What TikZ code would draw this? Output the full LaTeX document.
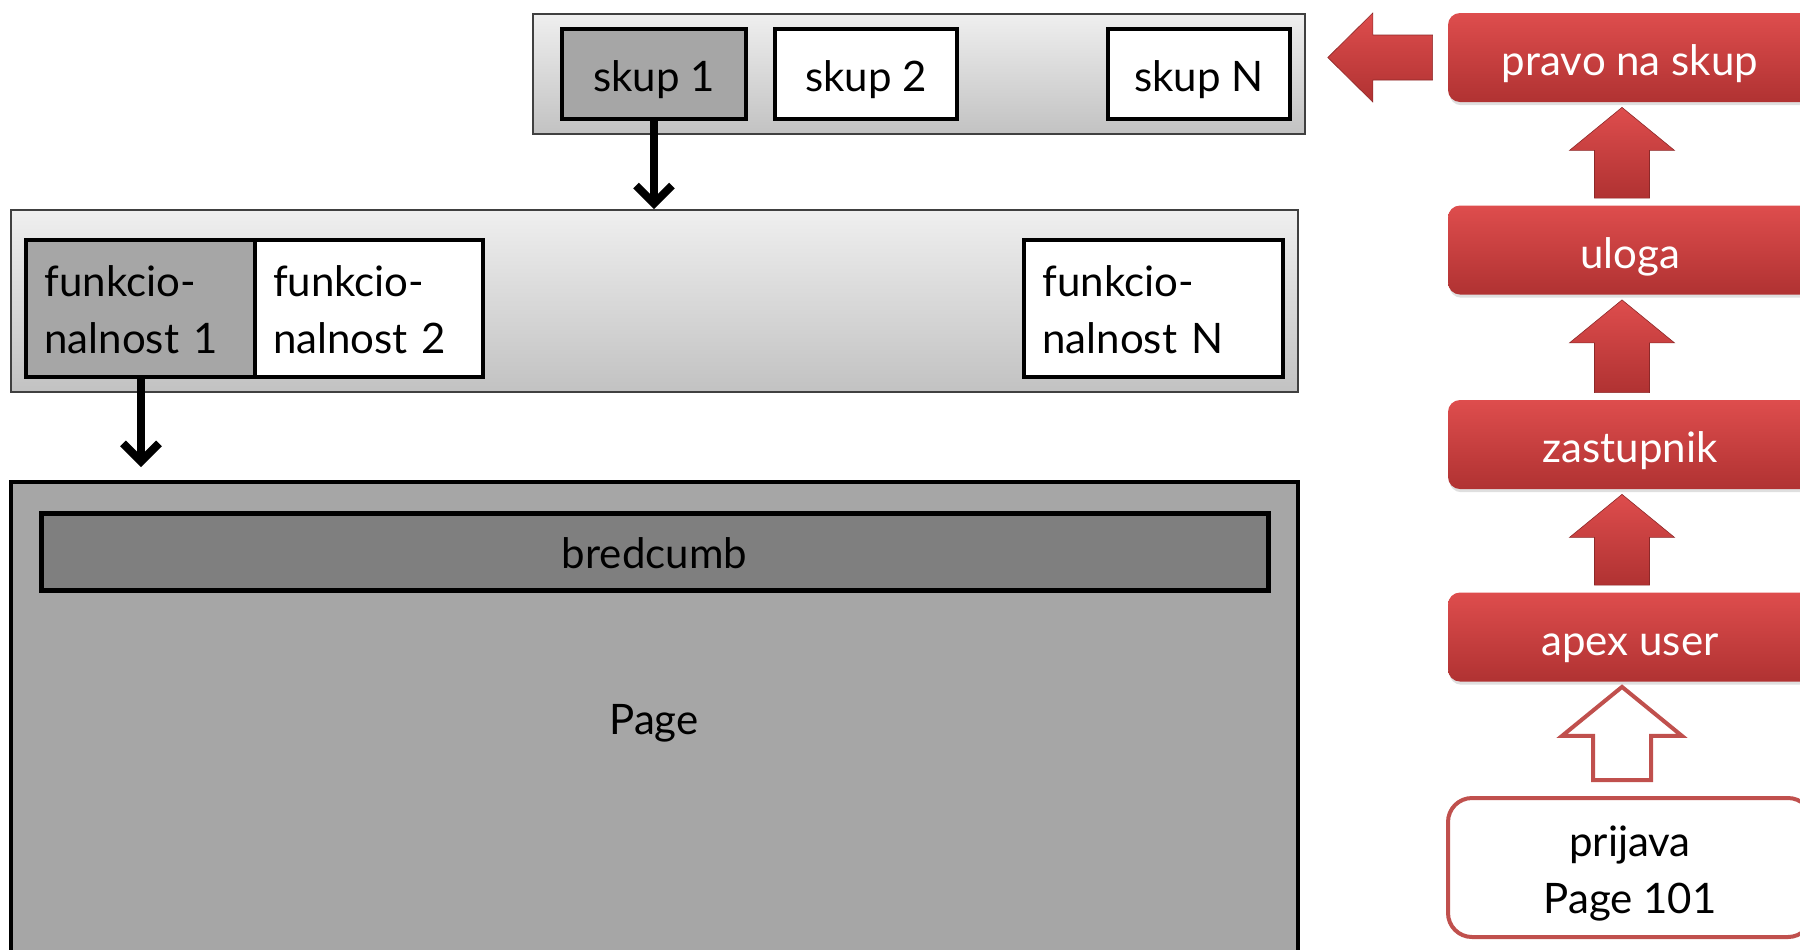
\documentclass[tikz,border=0pt]{standalone}
\usepackage{fontspec}
\setmainfont{Lato}
\usetikzlibrary{arrows.meta,calc,shadows}
\definecolor{boxgray}{HTML}{A6A6A6}
\definecolor{crumbgray}{HTML}{7F7F7F}
\definecolor{conttop}{HTML}{EFEFEF}
\definecolor{contbot}{HTML}{C2C2C2}
\definecolor{redtop}{HTML}{DE4D4D}
\definecolor{redbot}{HTML}{B03232}
\definecolor{redline}{HTML}{C0504D}
\tikzset{
  txt/.style={font=\fontsize{21}{28.5}\selectfont},
  onel/.style={text height=17pt, text depth=0pt},
  container/.style={draw=black!75, line width=0.8pt, top color=conttop, bottom color=contbot, inner sep=0pt},
  whitebox/.style={txt, draw=black, line width=2pt, fill=white, inner sep=0pt},
  graybox/.style={txt, draw=black, line width=2pt, fill=boxgray, inner sep=0pt},
  redbox/.style={txt, text=white, rounded corners=6pt, top color=redtop, bottom color=redbot,
     minimum width=182pt, minimum height=44.5pt, inner sep=0pt, text height=18pt, text depth=0pt,
     drop shadow={opacity=0.25, shadow xshift=0.6pt, shadow yshift=-1.6pt}},
  redarrow/.style={top color=redtop, bottom color=redbot, draw=redbot!80!black, line width=0.3pt},
  conn/.style={line width=4pt, -{Straight Barb[length=9pt, width=18pt, line width=4pt]}},
}
\newcommand\blockup[8]{% upper, lower, style, tipgap, headlen, headhalf, shafthalf, bottomgap
  \path[#3] let \p1=(#1.south), \p2=(#2.north) in
    (\x1-4pt, \y1-#4) -- (\x1-4pt+#6, \y1-#4-#5) -- (\x1-4pt+#7, \y1-#4-#5)
    -- (\x1-4pt+#7, \y2+#8) -- (\x1-4pt-#7, \y2+#8) -- (\x1-4pt-#7, \y1-#4-#5)
    -- (\x1-4pt-#6, \y1-#4-#5) -- cycle;}
\begin{document}
\begin{tikzpicture}[x=0.5pt,y=-0.5pt]
\useasboundingbox (0,0) rectangle (1800,949);
\clip (0,0) rectangle (1800,949);
\fill[white] (0,0) rectangle (1800,949);

% top container with sets
\node[container, minimum width=386pt, minimum height=60pt] (tc) at (919,74) {};
\node[graybox, onel, minimum width=92pt, minimum height=45pt] (s1) at (654,74) {skup 1};
\node[whitebox, onel, minimum width=91pt, minimum height=45pt] (s2) at (866,74) {skup 2};
\node[whitebox, onel, minimum width=91pt, minimum height=45pt] (sN) at (1199,74) {skup N};

% middle container with functionalities
\node[container, minimum width=643.5pt, minimum height=91pt] (mc) at (654.5,301) {};
\node[graybox, minimum width=114.5pt, minimum height=68.5pt, text width=96pt, align=left, text height=17pt] (f1) at (140.5,308.5) {funkcio-\\nalnost 1};
\node[whitebox, minimum width=114pt, minimum height=68.5pt, text width=96pt, align=left, text height=17pt] (f2) at (369,308.5) {funkcio-\\nalnost 2};
\node[whitebox, minimum width=129.5pt, minimum height=68.5pt, text width=111pt, align=left, text height=17pt] (fN) at (1153.5,308.5) {funkcio-\\nalnost N};

% page
\node[draw=black, line width=2pt, fill=boxgray, minimum width=643.5pt, minimum height=259pt, inner sep=0pt] (page) at (654.5,741) {};
\node[txt, onel, draw=black, line width=2.5pt, fill=crumbgray, minimum width=613.5pt, minimum height=38.5pt, inner sep=0pt] (crumb) at (654.5,551.5) {bredcumb};
\node[txt, onel] (pagelbl) at (654,717) {Page};

% connectors
\draw[conn] (s1.south) -- (s1.south |- mc.north);
\coordinate (a2end) at (141,467);
\draw[conn] (f1.south -| a2end) -- (a2end);

% right column
\node[redbox] (pravo) at (1630,57.5) {pravo na skup};
\node[redbox] (uloga) at (1630,250) {uloga};
\node[redbox] (zast) at (1630,444.5) {zastupnik};
\node[redbox] (apex) at (1630,637) {apex user};
\node[txt, draw=redline, line width=2pt, fill=white, rounded corners=12pt, minimum width=182pt, minimum height=69.5pt, align=center, inner sep=0pt, text height=45.5pt, text depth=0pt] (prijava) at (1630,867.5) {prijava\\Page 101};

\blockup{pravo}{uloga}{redarrow}{2.5pt}{21.5pt}{26.25pt}{13.75pt}{3.5pt}
\blockup{uloga}{zast}{redarrow}{2.5pt}{21.5pt}{26.25pt}{13.75pt}{3.5pt}
\blockup{zast}{apex}{redarrow}{2.5pt}{21.5pt}{26.25pt}{13.75pt}{3.5pt}
\blockup{apex}{prijava}{draw=redline, line width=2pt, fill=white}{2.5pt}{24.5pt}{30pt}{14.5pt}{8pt}

% left block arrow from pravo to sets
\path[redarrow] let \p1=(pravo.west), \p2=(tc.east) in
  (\x2+11pt, \y1) -- (\x2+33.5pt, \y1+22.25pt) -- (\x2+33.5pt, \y1+11.25pt)
  -- (\x1-7.5pt, \y1+11.25pt) -- (\x1-7.5pt, \y1-11.25pt) -- (\x2+33.5pt, \y1-11.25pt)
  -- (\x2+33.5pt, \y1-22.25pt) -- cycle;
\end{tikzpicture}
\end{document}
